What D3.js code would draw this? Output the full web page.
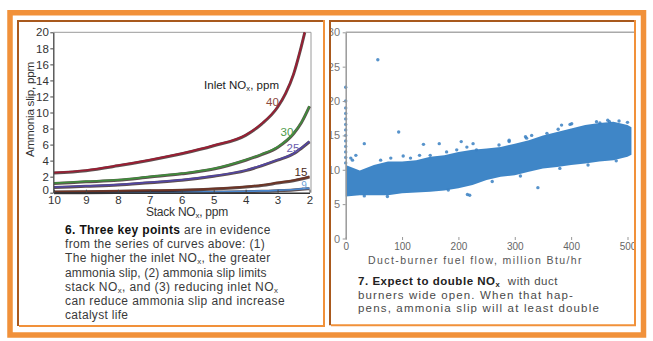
<!DOCTYPE html>
<html><head><meta charset="utf-8">
<script src="https://cdn.jsdelivr.net/npm/d3@7"></script>
<style>body{margin:0;background:#fff}svg{display:block}</style>
</head><body><svg id="c" width="653" height="341"></svg>
<script>
// ---------- data: left chart ----------
const stackTicks = [10, 9, 8, 7, 6, 5, 4, 3, 2];
const slipTicks = [0, 2, 4, 6, 8, 10, 12, 14, 16, 18, 20];
const stack40 = [10, 9, 8, 7, 6, 5, 4, 3.5, 3, 2.75, 2.5, 2.3, 2.15];
const slip40  = [2.5, 2.8, 3.4, 4.1, 4.9, 5.9, 7.2, 8.6, 10.7, 12.4, 14.8, 17.6, 20];
const stackRest = [10, 9, 8, 7, 6, 5, 4, 3.5, 3, 2.5, 2.25, 2];
const slip30 = [1.2, 1.4, 1.6, 2.0, 2.4, 3.0, 4.1, 4.8, 5.7, 7.4, 8.8, 10.8];
const slip25 = [0.7, 0.85, 1.0, 1.3, 1.6, 2.1, 2.8, 3.4, 4.1, 4.9, 5.6, 6.4];
const slip15 = [0.15, 0.18, 0.22, 0.28, 0.35, 0.5, 0.75, 0.95, 1.25, 1.55, 1.75, 2.0];
const slip9  = [0.05, 0.05, 0.06, 0.07, 0.1, 0.12, 0.18, 0.22, 0.3, 0.4, 0.47, 0.55];
const inletLabels = ["40", "30", "25", "15", "9"];

// ---------- data: right chart ----------
const fuelTicks = [0, 100, 200, 300, 400, 500];
const slipTicksR = [0, 5, 10, 15, 20, 25, 30];
const bandFuel = [0, 25, 50, 75, 100, 125, 150, 175, 200, 225, 250, 275, 300, 325, 350, 375, 400, 425, 450, 475, 500, 507];
const bandLow  = [6.1, 6.3, 6.3, 6.3, 6.6, 6.7, 6.8, 7.0, 7.3, 7.8, 8.5, 9.0, 9.2, 9.7, 10.2, 10.4, 10.7, 10.9, 11.2, 11.4, 11.9, 12.2];
const bandHigh = [10.7, 9.9, 10.7, 11.2, 11.2, 11.4, 11.9, 12.1, 12.6, 12.9, 13.1, 13.3, 13.8, 14.3, 15.0, 15.5, 16.0, 16.5, 16.8, 17.0, 16.5, 16.2];
const outlierFuel = [57, 94, 33, 102, 138, 166, 205, 226, 131, 12, 216, 341, 290, 319, 398, 451, 468];
const outlierSlip = [26, 15.5, 13.8, 12.0, 13.7, 13.8, 14.1, 13.8, 12.1, 11.4, 6.4, 7.4, 14.1, 14.8, 16.6, 16.8, 17.0];
const edgeFuel = [9, 18, 62, 80, 115, 150, 179, 197, 215, 232, 272, 290, 321, 330, 357, 377, 383, 401, 445, 465, 485, 500, 182, 74, 33, 220, 260, 310, 380, 430, 480];
const edgeSlip = [11.7, 12.1, 11.4, 11.7, 11.7, 12.1, 12.6, 12.9, 13.3, 12.9, 13.6, 14.3, 14.6, 15.0, 15.3, 15.9, 16.5, 16.7, 17.0, 17.2, 17.1, 16.9, 7.05, 6.1, 6.2, 6.3, 8.3, 9.1, 10.2, 10.7, 11.3];
const axisColSlip = [11, 11.8, 12.6, 13.4, 14.2, 15, 15.8, 16.6, 17.4, 18.2, 19, 20, 22];

// ---------- captions ----------
const captionLeft = [
  [["6. Three key points", "b"], [" are in evidence", ""]],
  [["from the series of curves above: (1)", ""]],
  [["The higher the inlet NO", ""], ["x", "s"], [", the greater", ""]],
  [["ammonia slip, (2) ammonia slip limits", ""]],
  [["stack NO", ""], ["x", "s"], [", and (3) reducing inlet NO", ""], ["x", "s"]],
  [["can reduce ammonia slip and increase", ""]],
  [["catalyst life", ""]]
];
const captionLeftWidths = [205.7, 200, 205.7, 201.7, 213.3, 220, 63.3];
const captionRight = [
  [["7. Expect to double NO", "b"], ["x", "bs"], ["  with duct", ""]],
  [["burners wide open. When that hap-", ""]],
  [["pens, ammonia slip will at least double", ""]]
];
const captionRightWidths = [200, 216, 242];

const FONT = '"Liberation Sans", Arial, Helvetica, sans-serif';
const ORANGE = "#F1913A", BROWN = "#A9591D";
const svg = d3.select("#c").attr("font-family", FONT);

function fit(sel, target) {
  const node = sel.node();
  const w = node.getComputedTextLength();
  const n = node.textContent.length;
  if (n > 1) sel.attr("letter-spacing", ((target - w) / n).toFixed(3));
}
function richText(g, x, y, segs, size, color, boldColor) {
  const t = g.append("text").attr("x", x).attr("y", y).attr("font-size", size)
    .attr("fill", color).style("white-space", "pre");
  let sub = false;
  segs.forEach(([s, st]) => {
    const ts = t.append("tspan").text(s);
    if (st.includes("b")) ts.attr("font-weight", "bold").attr("fill", boldColor);
    if (st.includes("s")) { ts.attr("font-size", size * 0.66).attr("dy", sub ? 0 : 1.8); sub = true; }
    else if (sub) { ts.attr("dy", -1.8); sub = false; }
  });
  return t;
}

// ---------- outer frame ----------
svg.append("rect").attr("x", 10).attr("y", 12.75).attr("width", 633.5).attr("height", 322.25)
  .attr("fill", "none").attr("stroke", ORANGE).attr("stroke-width", 5.5);

// ---------- LEFT CHART ----------
const xL = d3.scaleLinear().domain([10, 2]).range([54, 309.5]);
const yL = d3.scaleLinear().domain([0, 20]).range([192.7, 32.3]);
const gL = svg.append("g");

gL.append("path").attr("d", `M53.3,${yL(20)}H311V${yL(0)}`).attr("fill", "none").attr("stroke", "#9a9a9a").attr("stroke-width", 1);

const series = [
  {xs: stack40, ys: slip40, c: "#9c1c32", lab: inletLabels[0]},
  {xs: stackRest, ys: slip30, c: "#3f8c3c", lab: inletLabels[1]},
  {xs: stackRest, ys: slip25, c: "#5246a2", lab: inletLabels[2]},
  {xs: stackRest, ys: slip15, c: "#6e3424", lab: inletLabels[3]},
  {xs: stackRest, ys: slip9, c: "#4a86cc", lab: inletLabels[4]}
];
const line = d3.line().curve(d3.curveMonotoneX);
series.slice().reverse().forEach(s => {
  const pts = s.xs.map((v, i) => [xL(v), yL(s.ys[i])]);
  gL.append("path").attr("d", line(pts)).attr("fill", "none").attr("stroke", "#2a1414")
    .attr("stroke-opacity", 0.75).attr("stroke-width", 3).attr("transform", "translate(0,0.4)");
  gL.append("path").attr("d", line(pts)).attr("fill", "none").attr("stroke", s.c).attr("stroke-width", 1.7);
});

const gyL = gL.append("g").attr("transform", "translate(53.3,0)")
  .call(d3.axisLeft(yL).tickValues(slipTicks).tickSize(3).tickPadding(1.5).tickSizeOuter(0));
gyL.attr("font-family", FONT).attr("font-size", 11.5);
gyL.select(".domain").attr("stroke", "#444").attr("stroke-width", 1.3);
gyL.selectAll(".tick line").attr("stroke", "#444");
gyL.selectAll(".tick text").attr("fill", "#333").filter(d => d === 0).attr("dy", "0.05em");

const gxL = gL.append("g").attr("transform", `translate(0,${yL(0)})`)
  .call(d3.axisBottom(xL).tickValues(stackTicks).tickSize(-3).tickPadding(3.5).tickSizeOuter(0));
gxL.attr("font-family", FONT).attr("font-size", 11.5);
gxL.select(".domain").attr("stroke", "#333").attr("stroke-width", 1.6);
gxL.selectAll(".tick line").attr("stroke", "#444");
gxL.selectAll(".tick text").attr("fill", "#333");

// curve labels
const labPos = [[272.5, 105.8, "#8d4a3c", 11.5], [287, 135.6, "#4d9a49", 11.5], [293, 152, "#6a5cad", 11.5], [301, 176.2, "#4a2a20", 11.5], [304, 188.8, "#6d9fd6", 10]];
series.forEach((s, i) => {
  gL.append("text").attr("x", labPos[i][0]).attr("y", labPos[i][1]).attr("text-anchor", "middle")
    .attr("font-size", labPos[i][3]).attr("fill", labPos[i][2]).text(s.lab);
});
fit(richText(gL, 204, 89, [["Inlet NO", ""], ["x", "s"], [", ppm", ""]], 11.5, "#222", "#222"), 75);
fit(richText(gL, 146, 216, [["Stack NO", ""], ["x", "s"], [", ppm", ""]], 12, "#333", "#333"), 82);
const yLab = gL.append("text").attr("transform", "translate(34.3,109.5) rotate(-90)").attr("text-anchor", "middle")
  .attr("font-size", 11.8).attr("fill", "#333").text("Ammonia slip, ppm");
fit(yLab, 95);

captionLeft.forEach((segs, i) => {
  const t = richText(gL, 65, 234 + i * 14.2, segs, 12, "#3a3a3a", "#111");
  fit(t, captionLeftWidths[i]);
});

// ---------- RIGHT CHART ----------
const xR = d3.scaleLinear().domain([0, 500]).range([345.7, 627.5]);
const yR = d3.scaleLinear().domain([0, 30]).range([238.5, 32.3]);
svg.append("defs").append("clipPath").attr("id", "clipR").append("rect")
  .attr("x", 331).attr("y", 22).attr("width", 305).attr("height", 302);
const gR = svg.append("g").attr("clip-path", "url(#clipR)");

gR.append("path").attr("d", `M345.7,${yR(30)}H634`).attr("stroke", "#aaa").attr("stroke-width", 1.5);

const area = d3.area().x((d, i) => xR(bandFuel[i])).y0((d, i) => yR(bandLow[i])).y1((d, i) => yR(bandHigh[i]));
gR.append("path").attr("d", area(bandFuel)).attr("fill", "#3f86c7");

const pts = [];
outlierFuel.forEach((f, i) => pts.push([f, outlierSlip[i]]));
edgeFuel.forEach((f, i) => pts.push([f, edgeSlip[i]]));
axisColSlip.forEach(s => pts.push([0, s]));
gR.selectAll("circle.pt").data(pts).join("circle").attr("class", "pt")
  .attr("cx", d => xR(d[0])).attr("cy", d => yR(d[1])).attr("r", 1.7)
  .attr("fill", "#3a80c2").attr("fill-opacity", 0.85);

const gyR = gR.append("g").attr("transform", "translate(345.7,0)")
  .call(d3.axisLeft(yR).tickValues(slipTicksR).tickSize(3).tickPadding(2.7).tickSizeOuter(0));
gyR.attr("font-family", FONT).attr("font-size", 11);
gyR.select(".domain").attr("stroke", "#999").attr("stroke-width", 1.5);
gyR.selectAll(".tick line").attr("stroke", "#999");
gyR.selectAll(".tick text").attr("fill", "#777");

const gxR = gR.append("g").attr("transform", `translate(0,${yR(0) + 1.5})`)
  .call(d3.axisBottom(xR).tickValues(fuelTicks).tickSize(-3).tickPadding(3).tickSizeOuter(0));
gxR.attr("font-family", FONT).attr("font-size", 10);
gxR.select(".domain").attr("stroke", "#999").attr("stroke-width", 1.5).attr("d", "M0,0H288");
gxR.selectAll(".tick line").attr("stroke", "#999");
gxR.selectAll(".tick text").attr("fill", "#666");

fit(gR.append("text").attr("x", 368).attr("y", 263.5).attr("font-size", 10.5).attr("fill", "#555")
  .text("Duct-burner fuel flow, million Btu/hr"), 215);

captionRight.forEach((segs, i) => {
  const t = richText(gR, 358, 285 + i * 13.6, segs, 11.5, "#4a4a4a", "#222");
  fit(t, captionRightWidths[i]);
});

// ---------- panel borders ----------
function panel(x0, y0, x1, y1) {
  svg.append("path").attr("d", `M${x0},${y1}V${y0}H${x1}`).attr("fill", "none").attr("stroke", BROWN).attr("stroke-width", 2);
  svg.append("path").attr("d", `M${x1},${y0 - 1}V${y1}H${x0 + 1}`).attr("fill", "none").attr("stroke", ORANGE).attr("stroke-width", 2);
}
panel(18, 21, 324, 326);
panel(330, 21, 635, 325.3);
</script>
</body></html>
